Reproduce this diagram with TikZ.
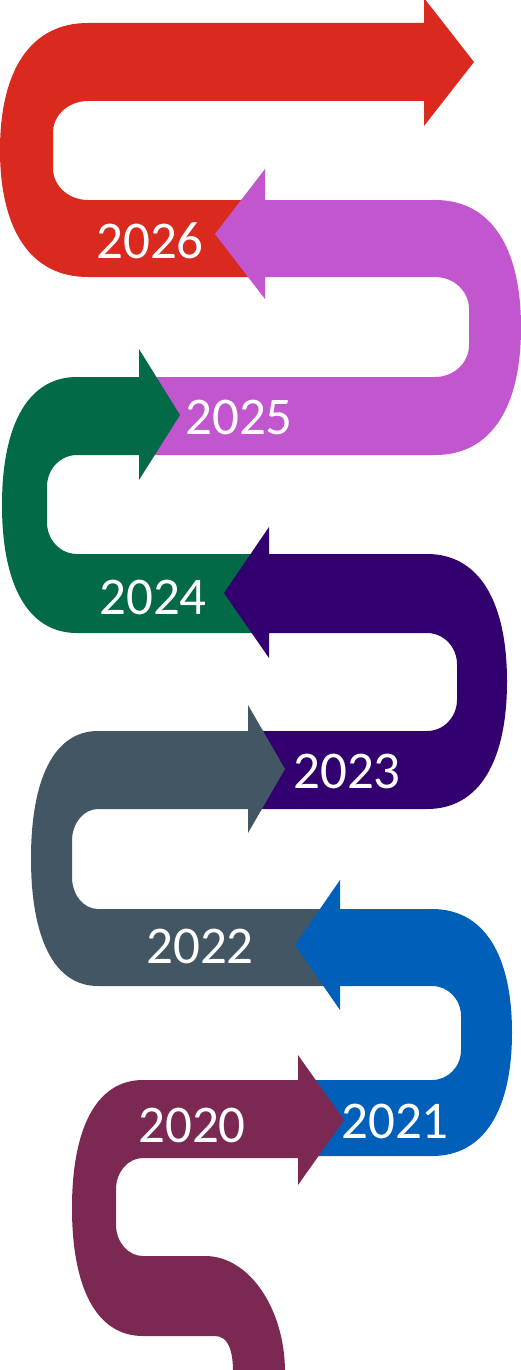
\documentclass[tikz,border=0pt]{standalone}
\usepackage{fontspec}
\setmainfont{Carlito}
\usepackage{tikz}

\definecolor{red26}{HTML}{DA291F}
\definecolor{orchid25}{HTML}{C156CF}
\definecolor{green24}{HTML}{026A47}
\definecolor{indigo23}{HTML}{33006F}
\definecolor{slate22}{HTML}{435663}
\definecolor{blue21}{HTML}{0060B9}
\definecolor{maroon20}{HTML}{7B2953}

% outer half turn of a band: from (#1,#3) round to (#2,mid) and back to (#1,#4)
\newcommand{\bend}[6]{.. controls ({#1+#5*(#2-#1)},#3) and (#2,{#3+#6*(#4-#3)}) .. (#2,{(#3+#4)/2}) .. controls (#2,{#4-#6*(#4-#3)}) and ({#1+#5*(#2-#1)},#4) .. (#1,#4)}
% inner side of the turn: two elliptic corners and a straight piece
\newcommand{\inturn}[4]{.. controls ({#1+0.55*(#2-#1)},#3) and (#2,{#3+0.14*(#4-#3)}) .. (#2,{#3+0.32*(#4-#3)}) -- (#2,{#4-0.32*(#4-#3)}) .. controls (#2,{#4-0.14*(#4-#3)}) and ({#1+0.55*(#2-#1)},#4) .. (#1,#4)}

\tikzset{year/.style={text=white, font=\fontsize{53}{56}\selectfont, inner sep=0pt}}

\begin{document}
\begin{tikzpicture}[x=1pt,y=-1pt]
                \useasboundingbox (0,0) rectangle (521,1370);

                % 2026
                \fill[red26] (265,200) -- (88,200) \inturn{88}{53}{200}{101} -- (424,101) -- (424,126) -- (474,62) -- (424,-2) -- (424,23) -- (88,23) \bend{88}{0}{23}{277}{0.66}{0.19} -- (265,277) -- cycle;
                % 2025
                \fill[orchid25] (150,455) -- (435,455) \bend{435}{521}{455}{200}{0.66}{0.19} -- (265,200) -- (265,169) -- (215,234) -- (265,299) -- (265,277) -- (435,277) \inturn{435}{469}{277}{377} -- (150,377) -- cycle;
                % 2024
                \fill[green24] (269,554) -- (77,554) \inturn{77}{47}{554}{455} -- (139,455) -- (139,480) -- (180,415) -- (139,349) -- (139,377) -- (77,377) \bend{77}{2}{377}{633}{0.66}{0.19} -- (269,633) -- cycle;
                % 2023
                \fill[indigo23] (252,809) -- (427,809) \bend{427}{507}{809}{554}{0.66}{0.19} -- (269,554) -- (269,527) -- (224,593) -- (269,658) -- (269,633) -- (427,633) \inturn{427}{457}{633}{731} -- (252,731) -- cycle;
                % 2022
                \fill[slate22] (340,909) -- (98,909) \inturn{98}{72}{909}{809} -- (248,809) -- (248,833) -- (285,769) -- (248,705) -- (248,731) -- (98,731) \bend{98}{31}{731}{986}{0.66}{0.19} -- (340,986) -- cycle;
                % 2021
                \fill[blue21] (300,1156) -- (432,1156) \bend{432}{512}{1156}{909}{0.66}{0.19} -- (340,909) -- (340,880) -- (295,945) -- (340,1010) -- (340,986) -- (432,986) \inturn{432}{461}{986}{1080} -- (300,1080) -- cycle;
                % 2020, tail runs off the bottom
                \fill[maroon20] (233,1372) .. controls (233,1350) and (228,1336) .. (215,1336) -- (143,1336) \bend{143}{72}{1336}{1080}{0.66}{0.19} -- (298,1080) -- (298,1055) -- (344,1120) -- (298,1185) -- (298,1158) -- (143,1158) \inturn{143}{116}{1158}{1256} -- (205,1256) .. controls (250,1256) and (285,1310) .. (285,1372) -- cycle;

                \node[year] (y2026) at (150,241) {2026};
                \node[year] (y2025) at (239,417) {2025};
                \node[year] (y2024) at (153,597) {2024};
                \node[year] (y2023) at (347,771) {2023};
                \node[year] (y2022) at (200,946) {2022};
                \node[year] (y2021) at (395,1121) {2021};
                \node[year] (y2020) at (192,1125) {2020};
            \end{tikzpicture}
\end{document}
